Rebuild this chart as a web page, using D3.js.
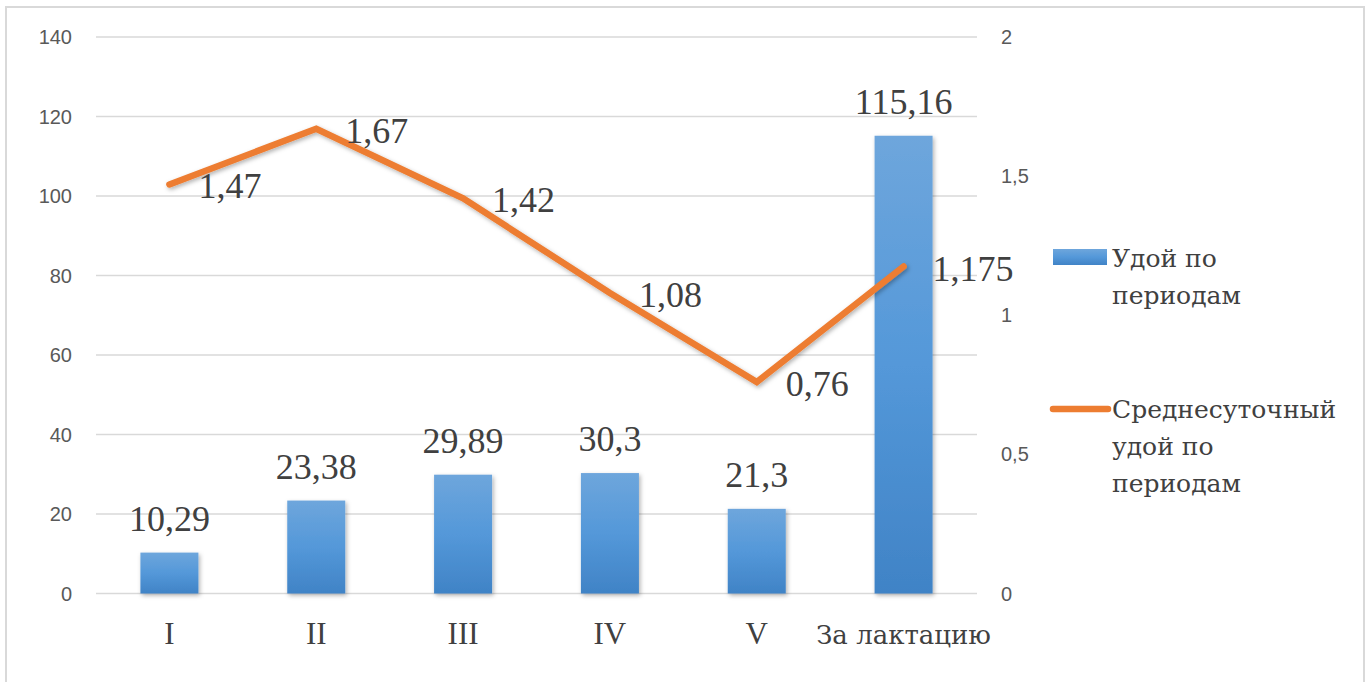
<!DOCTYPE html>
<html>
<head>
<meta charset="UTF-8">
<title>Удой по периодам</title>
<style>
  body { margin: 0; background: #fff; }
  svg { display: block; }
  .tick-lbl { font-family: "Liberation Sans", Arial, sans-serif; font-size: 20px; fill: #595959; }
  .serif { font-family: "Liberation Serif", "Times New Roman", serif; fill: #404040; }
  .cyr { font-family: "DejaVu Serif", serif; fill: #404040; }
</style>
</head>
<body>
<svg width="1371" height="682"></svg>
<script src="https://d3js.org/d3.v7.min.js"></script>
<script>
// data
const categories = ["I", "II", "III", "IV", "V", "За лактацию"];
const yieldValues = [10.29, 23.38, 29.89, 30.3, 21.3, 115.16];
const dailyValues = [1.47, 1.67, 1.42, 1.08, 0.76, 1.175];
const yieldLabels = ["10,29", "23,38", "29,89", "30,3", "21,3", "115,16"];
const dailyLabels = ["1,47", "1,67", "1,42", "1,08", "0,76", "1,175"];
const leftTicks = [0, 20, 40, 60, 80, 100, 120, 140];
const rightTicks = [0, 0.5, 1, 1.5, 2];
const seriesNames = [["Удой по", "периодам"], ["Среднесуточный", "удой по", "периодам"]];

const svg = d3.select("svg");

// outer frame
svg.append("rect")
  .attr("x", 6).attr("y", 7).attr("width", 1358).attr("height", 690)
  .attr("fill", "none").attr("stroke", "#d9d9d9").attr("stroke-width", 2);

const x = d3.scaleBand().domain(categories).range([96, 977]).padding(0);
const yL = d3.scaleLinear().domain([0, 140]).range([593.5, 37]);
const yR = d3.scaleLinear().domain([0, 2]).range([593.5, 37]);

const defs = svg.append("defs");
const grad = defs.append("linearGradient").attr("id", "barGrad")
  .attr("x1", 0).attr("y1", 0).attr("x2", 0).attr("y2", 1);
grad.append("stop").attr("offset", "0%").attr("stop-color", "#6ea6dc");
grad.append("stop").attr("offset", "50%").attr("stop-color", "#5498d9");
grad.append("stop").attr("offset", "100%").attr("stop-color", "#4083c6");

const shadow = defs.append("filter").attr("id", "shadow")
  .attr("x", "-20%").attr("y", "-20%").attr("width", "140%").attr("height", "140%");
shadow.append("feDropShadow").attr("dx", 1.5).attr("dy", 2).attr("stdDeviation", 2)
  .attr("flood-color", "#000").attr("flood-opacity", 0.3);

// gridlines
svg.append("g").selectAll("line").data(leftTicks).join("line")
  .attr("x1", 96).attr("x2", 977)
  .attr("y1", d => yL(d)).attr("y2", d => yL(d))
  .attr("stroke", "#d9d9d9").attr("stroke-width", 1.5);

// left axis labels
svg.append("g").selectAll("text").data(leftTicks).join("text")
  .attr("class", "tick-lbl")
  .attr("x", 72).attr("y", d => yL(d))
  .attr("text-anchor", "end").attr("dominant-baseline", "central")
  .text(d => d);

// right axis labels
svg.append("g").selectAll("text").data(rightTicks).join("text")
  .attr("class", "tick-lbl")
  .attr("x", 1001).attr("y", d => yR(d))
  .attr("text-anchor", "start").attr("dominant-baseline", "central")
  .text(d => String(d).replace(".", ","));

// category labels (latin numerals in Times-like, the Cyrillic one in DejaVu Serif)
svg.append("g").selectAll("text").data(categories).join("text")
  .attr("class", d => /[А-я]/.test(d) ? "cyr" : "serif")
  .attr("x", d => x(d) + x.bandwidth() / 2).attr("y", 644)
  .attr("text-anchor", "middle")
  .attr("font-size", d => /[А-я]/.test(d) ? 26 : 31)
  .text(d => d);

// bars
const barW = 58;
svg.append("g").selectAll("rect").data(yieldValues).join("rect")
  .attr("x", (d, i) => x(categories[i]) + x.bandwidth() / 2 - barW / 2)
  .attr("y", d => yL(d))
  .attr("width", barW)
  .attr("height", d => yL(0) - yL(d))
  .attr("fill", "url(#barGrad)")
  .attr("filter", "url(#shadow)");

// bar labels
svg.append("g").selectAll("text").data(yieldValues).join("text")
  .attr("class", "serif")
  .attr("x", (d, i) => x(categories[i]) + x.bandwidth() / 2)
  .attr("y", d => yL(d) - 22)
  .attr("text-anchor", "middle").attr("font-size", 36)
  .text((d, i) => yieldLabels[i]);

// line
const line = d3.line()
  .x((d, i) => x(categories[i]) + x.bandwidth() / 2)
  .y(d => yR(d));
svg.append("path").datum(dailyValues)
  .attr("d", line)
  .attr("fill", "none").attr("stroke", "#ed7d31").attr("stroke-width", 6.5)
  .attr("stroke-linecap", "round").attr("stroke-linejoin", "miter")
  .attr("filter", "url(#shadow)");

// line labels
svg.append("g").selectAll("text").data(dailyValues).join("text")
  .attr("class", "serif")
  .attr("x", (d, i) => x(categories[i]) + x.bandwidth() / 2 + 29)
  .attr("y", d => yR(d) + 2)
  .attr("dominant-baseline", "central").attr("font-size", 36)
  .text((d, i) => dailyLabels[i]);

// legend
const lg = svg.append("g");
lg.append("rect").attr("x", 1053).attr("y", 249).attr("width", 54).attr("height", 16)
  .attr("fill", "url(#barGrad)");
lg.append("line").attr("x1", 1053).attr("x2", 1108).attr("y1", 409).attr("y2", 409)
  .attr("stroke", "#ed7d31").attr("stroke-width", 6.5).attr("stroke-linecap", "round");
const legendY = [258, 409];
seriesNames.forEach((lines, k) => {
  lines.forEach((t, j) => {
    lg.append("text").attr("class", "cyr")
      .attr("x", 1112).attr("y", legendY[k] + j * 37)
      .attr("dominant-baseline", "central").attr("font-size", 25)
      .text(t);
  });
});
</script>
</body>
</html>
